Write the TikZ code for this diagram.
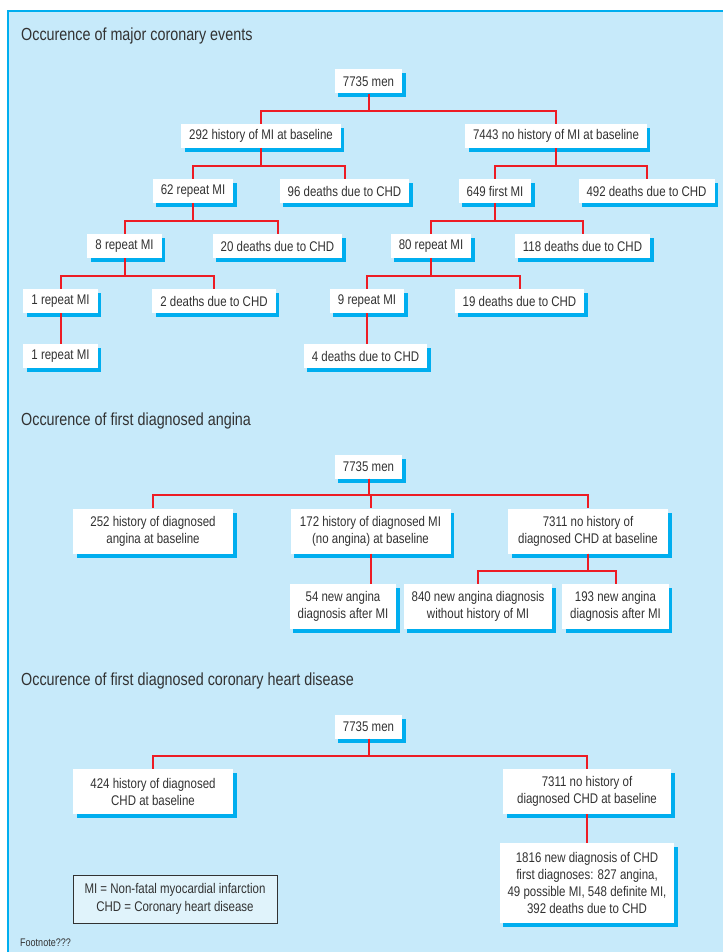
\documentclass[tikz,border=0pt]{standalone}
\usepackage{fontspec}
\setmainfont{Liberation Sans}[FakeStretch=0.82]
\usetikzlibrary{shadows}
\definecolor{panelblue}{RGB}{199,234,250}
\definecolor{framecyan}{RGB}{0,174,239}
\definecolor{linkred}{RGB}{237,28,36}
\definecolor{inkgrey}{RGB}{50,50,50}
\definecolor{keyblue}{RGB}{224,243,251}
\tikzset{
  box/.style={fill=white, text=inkgrey, font=\fontsize{14}{17}\selectfont,
    inner xsep=8pt, inner ysep=0pt, minimum height=24pt, align=center,
    drop shadow={shadow xshift=3.5pt, shadow yshift=-4pt, fill=framecyan, opacity=1}},
  twoline/.style={box, minimum width=#1, minimum height=45pt},
  link/.style={draw=linkred, line width=2pt},
  heading/.style={anchor=base west, text=inkgrey, font=\fontsize{17.5}{20}\selectfont, inner sep=0pt}
}
\begin{document}
\begin{tikzpicture}[x=1pt, y=-1pt]
  \useasboundingbox (0,0) rectangle (723,952);
  \fill[panelblue] (8,11) rectangle (723,952);
  \draw[framecyan, line width=1.5pt] (8,952) -- (8,11) -- (723,11);

  \node[heading] (head1) at (21,41) {Occurence of major coronary events};
  \node[box] (men1) at (368.5,81.5) {7735 men};
  \node[box] (mihist) at (261,136) {292 history of MI at baseline};
  \node[box] (minohist) at (556,136) {7443 no history of MI at baseline};
  \node[box] (rep62) at (193,191) {62 repeat MI};
  \node[box] (dth96) at (344.5,191) {96 deaths due to CHD};
  \node[box] (first649) at (495,191) {649 first MI};
  \node[box] (dth492) at (646.5,191) {492 deaths due to CHD};
  \node[box] (rep8) at (124.5,246) {8 repeat MI};
  \node[box] (dth20) at (277.5,246) {20 deaths due to CHD};
  \node[box] (rep80) at (431,246) {80 repeat MI};
  \node[box] (dth118) at (582.5,246) {118 deaths due to CHD};
  \node[box] (rep1a) at (60.5,301) {1 repeat MI};
  \node[box] (dth2) at (214,301) {2 deaths due to CHD};
  \node[box] (rep9) at (367,301) {9 repeat MI};
  \node[box] (dth19) at (519.5,301) {19 deaths due to CHD};
  \node[box] (rep1b) at (60.5,356) {1 repeat MI};
  \node[box] (dth4) at (365.5,356) {4 deaths due to CHD};

  \node[heading] (head2) at (21,425) {Occurence of first diagnosed angina};
  \node[box] (men2) at (368.5,466.5) {7735 men};
  \node[twoline=160pt] (ang252) at (153,531) {252 history of diagnosed\\angina at baseline};
  \node[twoline=160pt] (mi172) at (370.5,531) {172 history of diagnosed MI\\(no angina) at baseline};
  \node[twoline=160pt] (chdno1) at (588,531) {7311 no history of\\diagnosed CHD at baseline};
  \node[twoline=106pt] (ang54) at (343,606.5) {54 new angina\\diagnosis after MI};
  \node[twoline=144pt] (ang840) at (478,606.5) {840 new angina diagnosis\\without history of MI};
  \node[twoline=105pt] (ang193) at (615.5,606.5) {193 new angina\\diagnosis after MI};

  \node[heading] (head3) at (21,685) {Occurence of first diagnosed coronary heart disease};
  \node[box] (men3) at (368.5,726.5) {7735 men};
  \node[twoline=160pt] (chd424) at (153,791.5) {424 history of diagnosed\\CHD at baseline};
  \node[twoline=168pt] (chdno2) at (587,791.5) {7311 no history of\\diagnosed CHD at baseline};
  \node[twoline=168pt, minimum height=80pt] (chd1816) at (587,883)
    {1816 new diagnosis of CHD\\first diagnoses: 827 angina,\\49 possible MI, 548 definite MI,\\392 deaths due to CHD};

  \node[draw=inkgrey, line width=0.8pt, fill=keyblue, text=inkgrey, align=center,
    font=\fontsize{14}{18}\selectfont, minimum width=204pt, minimum height=48pt]
    (key) at (175,899) {MI = Non-fatal myocardial infarction\\CHD = Coronary heart disease};
  \node[anchor=base west, text=inkgrey, font=\fontsize{11}{13}\selectfont, inner sep=0pt]
    (foot) at (20,946) {Footnote???};

  \foreach \p/\c in {men1/mihist, men1/minohist, mihist/rep62, mihist/dth96,
      minohist/first649, minohist/dth492, rep62/rep8, rep62/dth20,
      first649/rep80, first649/dth118, rep8/rep1a, rep8/dth2, rep80/rep9, rep80/dth19,
      men2/ang252, men2/mi172, men2/chdno1, chdno1/ang840, chdno1/ang193,
      men3/chd424, men3/chdno2}
    \draw[link] (\p.south) |- ([yshift=13pt]\c.north) -- (\c.north);
  \foreach \p/\c in {rep1a/rep1b, rep9/dth4, mi172/ang54, chdno2/chd1816}
    \draw[link] (\p.south) -- (\p.south |- \c.north);
\end{tikzpicture}
\end{document}
